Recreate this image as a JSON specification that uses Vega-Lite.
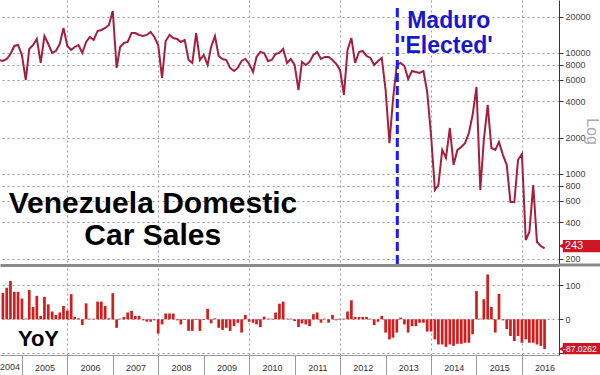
{
  "$schema": "https://vega.github.io/schema/vega-lite/v6.json",
  "padding": 0,
  "autosize": {"type": "pad"},
  "background": "white",
  "spacing": 1,
  "config": {"view": {"stroke": null}, "font": "Liberation Sans"},
  "datasets": {
    "line": [
      {"d":"2004/07/01","v":8750},{"d":"2004/08/01","v":8590},{"d":"2004/09/01","v":8920},{"d":"2004/10/01","v":9810},{"d":"2004/11/01","v":11430},{"d":"2004/12/01","v":11640},
      {"d":"2005/01/01","v":9630},{"d":"2005/02/01","v":5980},{"d":"2005/03/01","v":10790},{"d":"2005/04/01","v":11640},{"d":"2005/05/01","v":13060},{"d":"2005/06/01","v":8270},
      {"d":"2005/07/01","v":13810},{"d":"2005/08/01","v":11860},{"d":"2005/09/01","v":10000},{"d":"2005/10/01","v":10390},{"d":"2005/11/01","v":11860},{"d":"2005/12/01","v":16100},
      {"d":"2006/01/01","v":11430},{"d":"2006/02/01","v":10590},{"d":"2006/03/01","v":11210},{"d":"2006/04/01","v":11640},{"d":"2006/05/01","v":10000},{"d":"2006/06/01","v":12330},
      {"d":"2006/07/01","v":13560},{"d":"2006/08/01","v":12800},{"d":"2006/09/01","v":15200},{"d":"2006/10/01","v":15490},{"d":"2006/11/01","v":16100},{"d":"2006/12/01","v":17020},
      {"d":"2007/01/01","v":22230},{"d":"2007/02/01","v":7520},{"d":"2007/03/01","v":11210},{"d":"2007/04/01","v":12100},{"d":"2007/05/01","v":12330},{"d":"2007/06/01","v":14620},
      {"d":"2007/07/01","v":14620},{"d":"2007/08/01","v":14090},{"d":"2007/09/01","v":13810},{"d":"2007/10/01","v":14090},{"d":"2007/11/01","v":14920},{"d":"2007/12/01","v":13560},
      {"d":"2008/01/01","v":11640},{"d":"2008/02/01","v":6210},{"d":"2008/03/01","v":12560},{"d":"2008/04/01","v":14090},{"d":"2008/05/01","v":13300},{"d":"2008/06/01","v":13060},
      {"d":"2008/07/01","v":12330},{"d":"2008/08/01","v":12800},{"d":"2008/09/01","v":8750},{"d":"2008/10/01","v":8270},{"d":"2008/11/01","v":14620},{"d":"2008/12/01","v":8750},
      {"d":"2009/01/01","v":9630},{"d":"2009/02/01","v":7960},{"d":"2009/03/01","v":11210},{"d":"2009/04/01","v":13810},{"d":"2009/05/01","v":9445},{"d":"2009/06/01","v":8920},
      {"d":"2009/07/01","v":8750},{"d":"2009/08/01","v":7520},{"d":"2009/09/01","v":7100},{"d":"2009/10/01","v":7520},{"d":"2009/11/01","v":8590},{"d":"2009/12/01","v":8920},
      {"d":"2010/01/01","v":8120},{"d":"2010/02/01","v":6970},{"d":"2010/03/01","v":9270},{"d":"2010/04/01","v":10190},{"d":"2010/05/01","v":10000},{"d":"2010/06/01","v":8590},
      {"d":"2010/07/01","v":8750},{"d":"2010/08/01","v":9810},{"d":"2010/09/01","v":10000},{"d":"2010/10/01","v":10790},{"d":"2010/11/01","v":8270},{"d":"2010/12/01","v":8920},
      {"d":"2011/01/01","v":7960},{"d":"2011/02/01","v":4940},{"d":"2011/03/01","v":8430},{"d":"2011/04/01","v":7960},{"d":"2011/05/01","v":8430},{"d":"2011/06/01","v":9630},
      {"d":"2011/07/01","v":10190},{"d":"2011/08/01","v":8920},{"d":"2011/09/01","v":9270},{"d":"2011/10/01","v":9270},{"d":"2011/11/01","v":8750},{"d":"2011/12/01","v":8120},
      {"d":"2012/01/01","v":7240},{"d":"2012/02/01","v":4500},{"d":"2012/03/01","v":10590},{"d":"2012/04/01","v":13300},{"d":"2012/05/01","v":8270},{"d":"2012/06/01","v":10190},
      {"d":"2012/07/01","v":10390},{"d":"2012/08/01","v":9445},{"d":"2012/09/01","v":9100},{"d":"2012/10/01","v":7960},{"d":"2012/11/01","v":8590},{"d":"2012/12/01","v":9100},
      {"d":"2013/01/01","v":4940},{"d":"2013/02/01","v":1800},{"d":"2013/03/01","v":4090},{"d":"2013/04/01","v":7960},{"d":"2013/05/01","v":8270},{"d":"2013/06/01","v":7810},
      {"d":"2013/07/01","v":6100},{"d":"2013/08/01","v":7100},{"d":"2013/09/01","v":6970},{"d":"2013/10/01","v":6840},{"d":"2013/11/01","v":7100},{"d":"2013/12/01","v":4760},
      {"d":"2014/01/01","v":2100},{"d":"2014/02/01","v":738},{"d":"2014/03/01","v":811},{"d":"2014/04/01","v":1580},{"d":"2014/05/01","v":1360},{"d":"2014/06/01","v":2400},
      {"d":"2014/07/01","v":1190},{"d":"2014/08/01","v":1580},{"d":"2014/09/01","v":1670},{"d":"2014/10/01","v":1800},{"d":"2014/11/01","v":2180},{"d":"2014/12/01","v":3070},
      {"d":"2015/01/01","v":5240},{"d":"2015/02/01","v":738},{"d":"2015/03/01","v":1910},{"d":"2015/04/01","v":3720},{"d":"2015/05/01","v":1640},{"d":"2015/06/01","v":1580},
      {"d":"2015/07/01","v":1840},{"d":"2015/08/01","v":1440},{"d":"2015/09/01","v":1190},{"d":"2015/10/01","v":587},{"d":"2015/11/01","v":587},{"d":"2015/12/01","v":1310},
      {"d":"2016/01/01","v":1460},{"d":"2016/02/01","v":285},{"d":"2016/03/01","v":332},{"d":"2016/04/01","v":811},{"d":"2016/05/01","v":274},{"d":"2016/06/01","v":254},
      {"d":"2016/07/01","v":243}
    ],
    "yoy": [
      {"d":"2004/08/01","v":78},{"d":"2004/09/01","v":93},{"d":"2004/10/01","v":113},{"d":"2004/11/01","v":81},{"d":"2004/12/01","v":81},
      {"d":"2005/01/01","v":61},{"d":"2005/02/01","v":2},{"d":"2005/03/01","v":86},{"d":"2005/04/01","v":36},{"d":"2005/05/01","v":69},{"d":"2005/06/01","v":10},
      {"d":"2005/07/01","v":66},{"d":"2005/08/01","v":44},{"d":"2005/09/01","v":23},{"d":"2005/10/01","v":13},{"d":"2005/11/01","v":20},{"d":"2005/12/01","v":39},
      {"d":"2006/01/01","v":26},{"d":"2006/02/01","v":74},{"d":"2006/03/01","v":7},{"d":"2006/04/01","v":3},{"d":"2006/05/01","v":-17},{"d":"2006/06/01","v":47},
      {"d":"2006/07/01","v":2},{"d":"2006/08/01","v":2},{"d":"2006/09/01","v":52},{"d":"2006/10/01","v":52},{"d":"2006/11/01","v":39},{"d":"2006/12/01","v":3},
      {"d":"2007/01/01","v":77},{"d":"2007/02/01","v":-25},{"d":"2007/03/01","v":2},{"d":"2007/04/01","v":7},{"d":"2007/05/01","v":20},{"d":"2007/06/01","v":25},
      {"d":"2007/07/01","v":10},{"d":"2007/08/01","v":10},{"d":"2007/09/01","v":-3},{"d":"2007/10/01","v":-7},{"d":"2007/11/01","v":-7},{"d":"2007/12/01","v":-3},
      {"d":"2008/01/01","v":-42},{"d":"2008/02/01","v":-15},{"d":"2008/03/01","v":17},{"d":"2008/04/01","v":17},{"d":"2008/05/01","v":17},{"d":"2008/06/01","v":-3},
      {"d":"2008/07/01","v":-15},{"d":"2008/08/01","v":-2},{"d":"2008/09/01","v":-34},{"d":"2008/10/01","v":-34},{"d":"2008/11/01","v":-2},{"d":"2008/12/01","v":-34},
      {"d":"2009/01/01","v":-2},{"d":"2009/02/01","v":31},{"d":"2009/03/01","v":-12},{"d":"2009/04/01","v":3},{"d":"2009/05/01","v":-25},{"d":"2009/06/01","v":-31},
      {"d":"2009/07/01","v":-25},{"d":"2009/08/01","v":-34},{"d":"2009/09/01","v":-20},{"d":"2009/10/01","v":-10},{"d":"2009/11/01","v":-39},{"d":"2009/12/01","v":13},
      {"d":"2010/01/01","v":-7},{"d":"2010/02/01","v":-10},{"d":"2010/03/01","v":-15},{"d":"2010/04/01","v":-23},{"d":"2010/05/01","v":8},{"d":"2010/06/01","v":2},
      {"d":"2010/07/01","v":2},{"d":"2010/08/01","v":20},{"d":"2010/09/01","v":46},{"d":"2010/10/01","v":52},{"d":"2010/11/01","v":2},{"d":"2010/12/01","v":2},
      {"d":"2011/01/01","v":-5},{"d":"2011/02/01","v":-23},{"d":"2011/03/01","v":-12},{"d":"2011/04/01","v":-15},{"d":"2011/05/01","v":-20},{"d":"2011/06/01","v":15},
      {"d":"2011/07/01","v":20},{"d":"2011/08/01","v":-10},{"d":"2011/09/01","v":2},{"d":"2011/10/01","v":-10},{"d":"2011/11/01","v":13},{"d":"2011/12/01","v":-3},
      {"d":"2012/01/01","v":2},{"d":"2012/02/01","v":2},{"d":"2012/03/01","v":23},{"d":"2012/04/01","v":56},{"d":"2012/05/01","v":7},{"d":"2012/06/01","v":7},
      {"d":"2012/07/01","v":7},{"d":"2012/08/01","v":7},{"d":"2012/09/01","v":2},{"d":"2012/10/01","v":-17},{"d":"2012/11/01","v":-7},{"d":"2012/12/01","v":10},
      {"d":"2013/01/01","v":-39},{"d":"2013/02/01","v":-59},{"d":"2013/03/01","v":-54},{"d":"2013/04/01","v":-39},{"d":"2013/05/01","v":5},{"d":"2013/06/01","v":-15},
      {"d":"2013/07/01","v":-39},{"d":"2013/08/01","v":-20},{"d":"2013/09/01","v":-20},{"d":"2013/10/01","v":-10},{"d":"2013/11/01","v":-10},{"d":"2013/12/01","v":-36},
      {"d":"2014/01/01","v":-36},{"d":"2014/02/01","v":-59},{"d":"2014/03/01","v":-74},{"d":"2014/04/01","v":-74},{"d":"2014/05/01","v":-81},{"d":"2014/06/01","v":-74},
      {"d":"2014/07/01","v":-78},{"d":"2014/08/01","v":-72},{"d":"2014/09/01","v":-72},{"d":"2014/10/01","v":-69},{"d":"2014/11/01","v":-69},{"d":"2014/12/01","v":-44},
      {"d":"2015/01/01","v":83},{"d":"2015/02/01","v":2},{"d":"2015/03/01","v":59},{"d":"2015/04/01","v":132},{"d":"2015/05/01","v":36},{"d":"2015/06/01","v":-39},
      {"d":"2015/07/01","v":75},{"d":"2015/08/01","v":-3},{"d":"2015/09/01","v":-29},{"d":"2015/10/01","v":-49},{"d":"2015/11/01","v":-64},{"d":"2015/12/01","v":-49},
      {"d":"2016/01/01","v":-69},{"d":"2016/02/01","v":-59},{"d":"2016/03/01","v":-69},{"d":"2016/04/01","v":-69},{"d":"2016/05/01","v":-74},{"d":"2016/06/01","v":-78},
      {"d":"2016/07/01","v":-87.0262}
    ]
  },
  "vconcat": [
    {
      "width": 559,
      "height": 265,
      "layer": [
        {
          "data": {"name": "line"},
          "mark": {"type": "line", "color": "#a51f3d", "strokeWidth": 2, "clip": true},
          "encoding": {
            "x": {
              "field": "d", "type": "temporal",
              "scale": {"domain": [{"year": 2004, "month": 7, "date": 9}, {"year": 2016, "month": 10, "date": 25}], "nice": false, "padding": 0},
              "axis": {
                "title": null, "orient": "bottom", "labels": false, "ticks": false,
                "domain": true, "domainColor": "#8a8a8a", "domainWidth": 3,
                "grid": true, "gridDash": [2, 3], "gridColor": "#9a9a9a",
                "values": [{"year": 2006, "month": 1, "date": 1}, {"year": 2008, "month": 1, "date": 1}, {"year": 2010, "month": 1, "date": 1}, {"year": 2012, "month": 1, "date": 1}, {"year": 2014, "month": 1, "date": 1}, {"year": 2016, "month": 1, "date": 1}]
              }
            },
            "y": {
              "field": "v", "type": "quantitative",
              "scale": {"type": "log", "domain": [177, 27400], "nice": false},
              "axis": {
                "orient": "right", "title": "Log",
                "values": [200, 400, 600, 800, 1000, 2000, 4000, 6000, 8000, 10000, 20000],
                "format": "d", "grid": true, "gridDash": [2, 3], "gridColor": "#9a9a9a",
                "domainColor": "#333", "tickColor": "#333", "tickSize": 4,
                "labelFont": "Liberation Sans", "labelFontSize": 9, "labelColor": "#444", "labelPadding": 2,
                "titleFont": "Liberation Sans", "titleFontSize": 16, "titleColor": "#aaa", "titleFontWeight": "normal",
                "titleAngle": 90, "titleX": 27, "titleY": 131, "titleAlign": "center", "titleBaseline": "alphabetic"
              }
            }
          }
        },
        {
          "data": {"values": [{"d": "2016/10/20", "d2": "2017/12/01", "v": 177}]},
          "mark": {"type": "rule", "color": "#8a8a8a", "strokeWidth": 3},
          "encoding": {
            "x": {"field": "d", "type": "temporal"},
            "x2": {"field": "d2"},
            "y": {"field": "v", "type": "quantitative"}
          }
        },
        {
          "data": {"values": [{"d": "2013/04/05", "v": 23500, "v2": 177}]},
          "mark": {"type": "rule", "color": "#1a1aff", "strokeWidth": 3, "strokeDash": [9, 4]},
          "encoding": {
            "x": {"field": "d", "type": "temporal"},
            "y": {"field": "v", "type": "quantitative"},
            "y2": {"field": "v2"}
          }
        },
        {
          "data": {"values": [{"d": "2014/05/23", "v": 16090, "t": "Maduro"}, {"d": "2014/05/04", "v": 10000, "t": "'Elected'"}]},
          "mark": {"type": "text", "font": "Liberation Sans", "fontWeight": "bold", "fontSize": 23, "color": "#1717d0", "align": "center", "baseline": "alphabetic"},
          "encoding": {
            "x": {"field": "d", "type": "temporal"},
            "y": {"field": "v", "type": "quantitative"},
            "text": {"field": "t"}
          }
        },
        {
          "data": {"values": [{"d": "2007/11/20", "v": 476, "t": "Venezuela Domestic"}, {"d": "2007/11/18", "v": 259, "t": "Car Sales"}]},
          "mark": {"type": "text", "font": "Liberation Sans", "fontWeight": "bold", "fontSize": 30, "color": "#000", "align": "center", "baseline": "alphabetic"},
          "encoding": {
            "x": {"field": "d", "type": "temporal"},
            "y": {"field": "v", "type": "quantitative"},
            "text": {"field": "t"}
          }
        },
        {
          "data": {"values": [{"d": "2016/11/25", "d2": "2017/09/20", "v": 226, "v2": 285}]},
          "mark": {"type": "rect", "color": "#cf1424"},
          "encoding": {
            "x": {"field": "d", "type": "temporal"},
            "x2": {"field": "d2"},
            "y": {"field": "v", "type": "quantitative"},
            "y2": {"field": "v2"}
          }
        },
        {
          "data": {"values": [{"d": "2016/11/16", "v": 254}]},
          "mark": {"type": "point", "shape": "triangle-left", "filled": true, "opacity": 1, "color": "#cf1424", "size": 45},
          "encoding": {
            "x": {"field": "d", "type": "temporal"},
            "y": {"field": "v", "type": "quantitative"}
          }
        },
        {
          "data": {"values": [{"d": "2016/12/11", "v": 254, "t": "243"}]},
          "mark": {"type": "text", "font": "Liberation Sans", "fontSize": 11, "color": "white", "align": "left", "baseline": "middle"},
          "encoding": {
            "x": {"field": "d", "type": "temporal"},
            "y": {"field": "v", "type": "quantitative"},
            "text": {"field": "t"}
          }
        }
      ]
    },
    {
      "width": 559,
      "height": 87,
      "layer": [
        {
          "data": {"name": "yoy"},
          "mark": {"type": "bar", "color": "#d41c1c", "size": 2.7},
          "encoding": {
            "x": {
              "field": "d", "type": "temporal",
              "scale": {"domain": [{"year": 2004, "month": 7, "date": 9}, {"year": 2016, "month": 10, "date": 25}], "nice": false, "padding": 0},
              "axis": {
                "title": null, "orient": "bottom", "format": "%Y", "formatType": "time",
                "values": [{"year": 2005, "month": 1, "date": 1}, {"year": 2006, "month": 1, "date": 1}, {"year": 2007, "month": 1, "date": 1}, {"year": 2008, "month": 1, "date": 1}, {"year": 2009, "month": 1, "date": 1}, {"year": 2010, "month": 1, "date": 1}, {"year": 2011, "month": 1, "date": 1}, {"year": 2012, "month": 1, "date": 1}, {"year": 2013, "month": 1, "date": 1}, {"year": 2014, "month": 1, "date": 1}, {"year": 2015, "month": 1, "date": 1}, {"year": 2016, "month": 1, "date": 1}],
                "labelOffset": 22.7, "labelFlush": false, "labelOverlap": false,
                "labelFont": "Liberation Sans", "labelFontSize": 9, "labelColor": "#333",
                "labelBaseline": "middle", "labelPadding": -9,
                "tickSize": 21, "tickColor": "#999", "tickWidth": 1,
                "domainColor": "#999",
                "grid": true, "gridDash": [2, 3], "gridColor": "#9a9a9a",
                "gridOpacity": {"condition": {"test": "year(datum.value) % 2 === 0", "value": 1}, "value": 0}
              }
            },
            "y": {
              "field": "v", "type": "quantitative",
              "scale": {"domain": [-105, 151], "nice": false},
              "axis": {
                "orient": "right", "title": null, "values": [-100, 0, 100],
                "labelExpr": "datum.value == -100 ? '' : datum.label",
                "grid": true, "gridDash": [2, 3], "gridColor": "#9a9a9a",
                "domainColor": "#333", "tickColor": "#333", "tickSize": 4,
                "labelFont": "Liberation Sans", "labelFontSize": 9, "labelColor": "#444", "labelPadding": 2
              }
            }
          }
        },
        {
          "data": {"values": [{"d": "2005/05/14", "v": -78.5, "t": "YoY"}]},
          "mark": {"type": "text", "font": "Liberation Sans", "fontWeight": "bold", "fontSize": 22, "color": "#000", "align": "center", "baseline": "alphabetic"},
          "encoding": {
            "x": {"field": "d", "type": "temporal"},
            "y": {"field": "v", "type": "quantitative"},
            "text": {"field": "t"}
          }
        },
        {
          "data": {"values": [{"d": "2004/07/09", "v": -140, "t": "2004"}]},
          "mark": {"type": "text", "font": "Liberation Sans", "fontSize": 9, "color": "#333", "align": "left", "baseline": "middle"},
          "encoding": {
            "x": {"field": "d", "type": "temporal"},
            "y": {"field": "v", "type": "quantitative"},
            "text": {"field": "t"}
          }
        },
        {
          "data": {"values": [{"d": "2016/11/25", "d2": "2017/09/20", "v": -69.7, "v2": -103}]},
          "mark": {"type": "rect", "color": "#cf1424"},
          "encoding": {
            "x": {"field": "d", "type": "temporal"},
            "x2": {"field": "d2"},
            "y": {"field": "v", "type": "quantitative"},
            "y2": {"field": "v2"}
          }
        },
        {
          "data": {"values": [{"d": "2016/11/16", "v": -87}]},
          "mark": {"type": "point", "shape": "triangle-left", "filled": true, "opacity": 1, "color": "#cf1424", "size": 45},
          "encoding": {
            "x": {"field": "d", "type": "temporal"},
            "y": {"field": "v", "type": "quantitative"}
          }
        },
        {
          "data": {"values": [{"d": "2016/11/27", "v": -87, "t": "-87.0262"}]},
          "mark": {"type": "text", "font": "Liberation Sans", "fontSize": 8.5, "color": "white", "align": "left", "baseline": "middle"},
          "encoding": {
            "x": {"field": "d", "type": "temporal"},
            "y": {"field": "v", "type": "quantitative"},
            "text": {"field": "t"}
          }
        }
      ]
    }
  ]
}
